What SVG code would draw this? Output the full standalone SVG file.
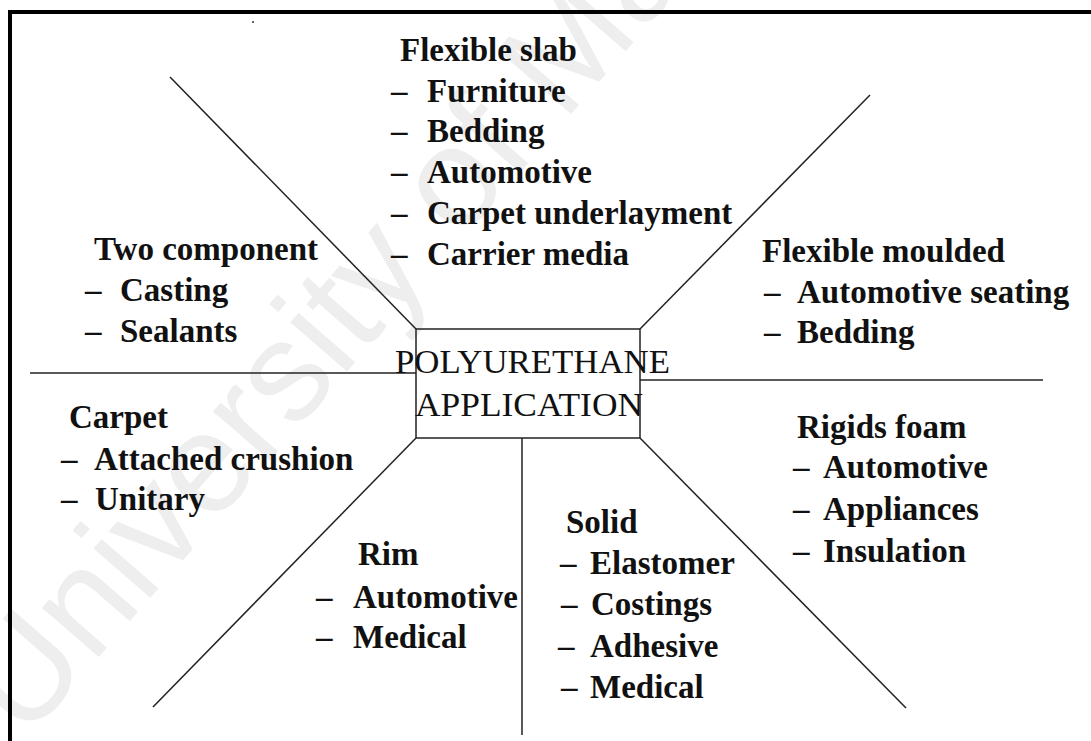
<svg xmlns="http://www.w3.org/2000/svg" width="1091" height="741" viewBox="0 0 1091 741">
  <style>
    .t { font-family: "Liberation Serif", "Times New Roman", serif; font-size: 33px; font-weight: bold; fill: #111; }
    .c { font-family: "Liberation Serif", "Times New Roman", serif; font-size: 33px; fill: #111; }
    .ln { stroke: #222; stroke-width: 1.5; fill: none; }
    .wm { font-family: "Liberation Sans", Arial, sans-serif; font-size: 142px; fill: #eeeeee; }
  </style>
  <rect width="1091" height="741" fill="#ffffff"/>
  <text class="wm" x="25" y="742" transform="rotate(-49 25 742)">University of Malaya</text>
  <g id="frame">
    <line x1="10" y1="12" x2="1091" y2="12" stroke="#000" stroke-width="4"/>
    <line x1="10" y1="10" x2="10" y2="741" stroke="#000" stroke-width="4"/>
    <circle cx="253" cy="22" r="1" fill="#333"/>
  </g>
  <g id="connectors">
    <line class="ln" x1="170" y1="77" x2="416" y2="329"/>
    <line class="ln" x1="870" y1="95" x2="640" y2="329"/>
    <line class="ln" x1="153" y1="707" x2="416" y2="438"/>
    <line class="ln" x1="640" y1="438" x2="906" y2="708"/>
    <line class="ln" x1="522" y1="438" x2="522" y2="735"/>
    <line class="ln" x1="30" y1="373" x2="416" y2="373"/>
    <line class="ln" x1="640" y1="380" x2="1043" y2="380"/>
  </g>
  <g id="center">
    <rect class="ln" x="416" y="329" width="224" height="109"/>
    <text class="c" x="395" y="373" textLength="275" lengthAdjust="spacingAndGlyphs">POLYURETHANE</text>
    <text class="c" x="415" y="416" textLength="228" lengthAdjust="spacingAndGlyphs">APPLICATION</text>
  </g>
  <g id="flexible-slab">
    <text class="t" x="400" y="61">Flexible slab</text>
    <text class="t" x="391" y="102">–</text><text class="t" x="427" y="102">Furniture</text>
    <text class="t" x="391" y="142">–</text><text class="t" x="427" y="142">Bedding</text>
    <text class="t" x="391" y="183">–</text><text class="t" x="427" y="183">Automotive</text>
    <text class="t" x="391" y="224">–</text><text class="t" x="427" y="224">Carpet underlayment</text>
    <text class="t" x="391" y="265">–</text><text class="t" x="427" y="265">Carrier media</text>
  </g>
  <g id="two-component">
    <text class="t" x="94" y="260">Two component</text>
    <text class="t" x="85" y="301">–</text><text class="t" x="120" y="301">Casting</text>
    <text class="t" x="85" y="342">–</text><text class="t" x="120" y="342">Sealants</text>
  </g>
  <g id="flexible-moulded">
    <text class="t" x="762" y="262">Flexible moulded</text>
    <text class="t" x="764" y="303">–</text><text class="t" x="797" y="303">Automotive seating</text>
    <text class="t" x="764" y="343">–</text><text class="t" x="797" y="343">Bedding</text>
  </g>
  <g id="carpet">
    <text class="t" x="69" y="428">Carpet</text>
    <text class="t" x="61" y="470">–</text><text class="t" x="94" y="470">Attached crushion</text>
    <text class="t" x="61" y="510">–</text><text class="t" x="95" y="510">Unitary</text>
  </g>
  <g id="rigids-foam">
    <text class="t" x="797" y="438">Rigids foam</text>
    <text class="t" x="793" y="478">–</text><text class="t" x="823" y="478">Automotive</text>
    <text class="t" x="793" y="520">–</text><text class="t" x="823" y="520">Appliances</text>
    <text class="t" x="793" y="562">–</text><text class="t" x="823" y="562">Insulation</text>
  </g>
  <g id="rim">
    <text class="t" x="358" y="565">Rim</text>
    <text class="t" x="316" y="608">–</text><text class="t" x="353" y="608">Automotive</text>
    <text class="t" x="316" y="648">–</text><text class="t" x="353" y="648">Medical</text>
  </g>
  <g id="solid">
    <text class="t" x="566" y="533">Solid</text>
    <text class="t" x="560" y="574">–</text><text class="t" x="590" y="574">Elastomer</text>
    <text class="t" x="561" y="615">–</text><text class="t" x="591" y="615">Costings</text>
    <text class="t" x="558" y="657">–</text><text class="t" x="590" y="657">Adhesive</text>
    <text class="t" x="561" y="698">–</text><text class="t" x="590" y="698">Medical</text>
  </g>
</svg>
